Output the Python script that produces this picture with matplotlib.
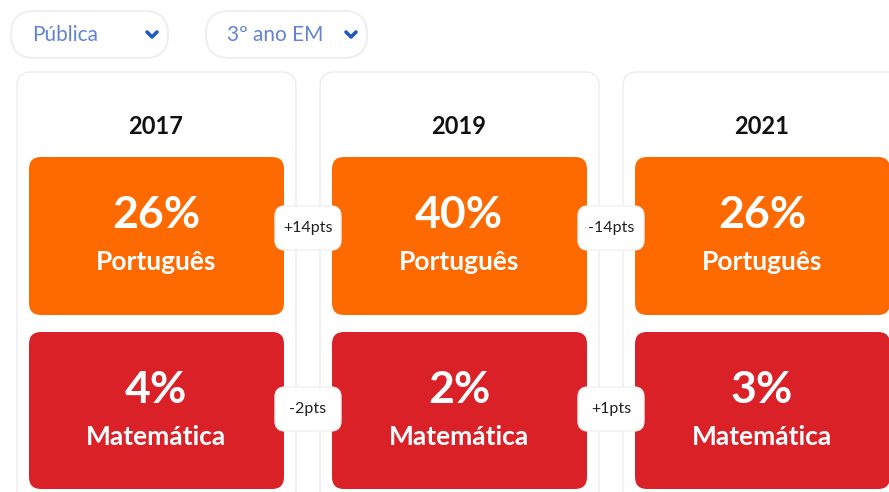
import matplotlib.pyplot as plt
from matplotlib.patches import FancyBboxPatch

# dados
anos = ['2017', '2019', '2021']
portugues = [26, 40, 26]
matematica = [4, 2, 3]
filtros = ['Pública', '3º ano EM']

LARANJA = '#ff6a00'
VERMELHO = '#da2128'

plt.rcParams['font.family'] = ['Lato', 'DejaVu Sans']

fig = plt.figure(figsize=(8.89, 4.92), dpi=100)
ax = fig.add_axes([0, 0, 1, 1])
ax.set_xlim(0, 889)
ax.set_ylim(492, 0)
ax.axis('off')


def caixa(x, y, w, h, r, fc, ec='none', lw=1.0, z=1):
    p = FancyBboxPatch((x, y), w, h, boxstyle='round,pad=0,rounding_size=%g' % r,
                       fc=fc, ec=ec, lw=lw, zorder=z)
    ax.add_patch(p)


# filtros (dropdowns)
pills = [(11, 157), (206, 161)]
for (px, pw), txt in zip(pills, filtros):
    caixa(px, 11, pw, 47, 23, 'white', ec='#eeeef3', lw=1.5)
    ax.text(px + 21, 35, txt, fontsize=15, color='#6283d4', va='center', ha='left')
    cx = px + pw - 16
    ax.plot([cx - 5, cx, cx + 5], [32, 37, 32], color='#1f5cc0', lw=2.6,
            solid_capstyle='round', solid_joinstyle='round')

# cartões
x0 = 17
passo = 303
for i, ano in enumerate(anos):
    cx = x0 + i * passo
    caixa(cx, 72, 279, 460, 14, 'white', ec='#ececf0', lw=1.0)
    centro = cx + 139
    ax.text(centro, 126, ano, fontsize=17, fontweight='bold', color='#111111',
            ha='center', va='center')
    bx = cx + 12
    caixa(bx, 157, 255, 158, 12, LARANJA, z=2)
    ax.text(centro, 215, '%d%%' % portugues[i], fontsize=32, fontweight='bold',
            color='white', ha='center', va='center', zorder=3)
    ax.text(centro, 262, 'Português', fontsize=19, fontweight='bold',
            color='white', ha='center', va='center', zorder=3)
    caixa(bx, 332, 255, 157, 12, VERMELHO, z=2)
    ax.text(centro, 390, '%d%%' % matematica[i], fontsize=32, fontweight='bold',
            color='white', ha='center', va='center', zorder=3)
    ax.text(centro, 437, 'Matemática', fontsize=19, fontweight='bold',
            color='white', ha='center', va='center', zorder=3)

# diferenças entre anos
for i in range(len(anos) - 1):
    mx = x0 + i * passo + 279 + 12
    for serie, yc in ((portugues, 228), (matematica, 409)):
        d = serie[i + 1] - serie[i]
        caixa(mx - 33, yc - 22, 66, 44, 10, 'white', ec='#f0f0f0', lw=1, z=4)
        ax.text(mx, yc, '%+dpts' % d, fontsize=11.5, color='#222222',
                ha='center', va='center', zorder=5)

fig.savefig('out.png', dpi=100)
